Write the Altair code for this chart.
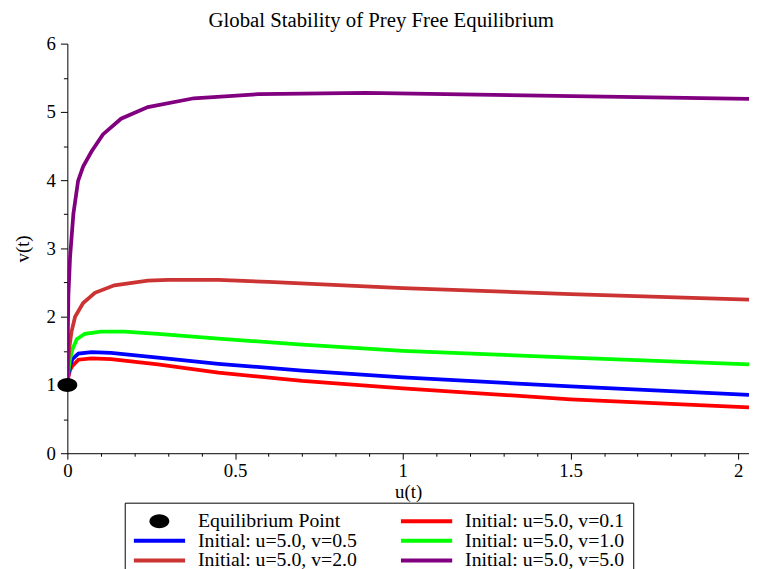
import math
import altair as alt
import pandas as pd

# ---- data ----
title_text = "Global Stability of Prey Free Equilibrium"
eq_label = "Equilibrium Point"
series_labels = [
    "Initial: u=5.0, v=0.1",
    "Initial: u=5.0, v=0.5",
    "Initial: u=5.0, v=1.0",
    "Initial: u=5.0, v=2.0",
    "Initial: u=5.0, v=5.0",
]
series_colors = ["#FF0000", "#0000FF", "#00FF00", "#CC3333", "#800080"]
eq_color = "#000000"

u_v01 = [0, 0.003, 0.008, 0.015, 0.033, 0.072, 0.13, 0.27, 0.45, 0.7, 1.0, 1.5, 2.032]
v_v01 = [1.0, 1.12, 1.22, 1.28, 1.37, 1.39, 1.38, 1.30, 1.18, 1.06, 0.95, 0.79, 0.67]

u_v05 = [0, 0.003, 0.008, 0.015, 0.033, 0.072, 0.13, 0.27, 0.45, 0.7, 1.0, 1.5, 2.032]
v_v05 = [1.0, 1.15, 1.28, 1.38, 1.46, 1.48, 1.47, 1.40, 1.31, 1.21, 1.11, 0.98, 0.855]

u_v10 = [0, 0.003, 0.008, 0.015, 0.028, 0.052, 0.10, 0.17, 0.27, 0.45, 0.7, 1.0, 1.5, 2.032]
v_v10 = [1.0, 1.2, 1.38, 1.52, 1.67, 1.75, 1.78, 1.78, 1.75, 1.68, 1.59, 1.50, 1.40, 1.30]

u_v20 = [0, 0.002, 0.006, 0.012, 0.023, 0.047, 0.082, 0.14, 0.24, 0.3, 0.45, 0.6, 1.0, 1.5, 2.032]
v_v20 = [1.0, 1.3, 1.55, 1.77, 2.0, 2.20, 2.35, 2.46, 2.53, 2.54, 2.54, 2.51, 2.42, 2.33, 2.25]

u_v50 = [0, 0.001, 0.003, 0.008, 0.018, 0.032, 0.047, 0.072, 0.106, 0.16, 0.24, 0.377, 0.57, 0.89, 1.27, 1.65, 2.032]
v_v50 = [1.0, 1.6, 2.3, 2.87, 3.51, 3.99, 4.20, 4.42, 4.67, 4.90, 5.07, 5.20, 5.26, 5.28, 5.25, 5.22, 5.19]

eq_u = [0.0]
eq_v = [1.0]

x_ticks = [round(i * 0.1, 1) for i in range(21)]
y_ticks = [round(i * 0.5, 1) for i in range(13)]
x_domain = [0, 2.032]
y_domain = [0, 6]

# ---- build tables ----
rows = []
for lab, us, vs in zip(series_labels,
                       [u_v01, u_v05, u_v10, u_v20, u_v50],
                       [v_v01, v_v05, v_v10, v_v20, v_v50]):
    for i, (u, v) in enumerate(zip(us, vs)):
        rows.append({"series": lab, "u": u, "v": v, "idx": i})
lines_df = pd.DataFrame(rows)
eq_df = pd.DataFrame({"u": eq_u, "v": eq_v, "series": [eq_label]})

FONT = "Liberation Serif"
SYM_SIZE = 2704  # symbol box 52 px -> path unit = 26 px

# style shapes (unit path coordinates)
_rx, _ry = 10 / 26, 7 / 26
ELLIPSE = "M " + " L ".join(
    f"{_rx * math.cos(2 * math.pi * k / 36):.4f} {_ry * math.sin(2 * math.pi * k / 36):.4f}"
    for k in range(36)
) + " Z"
_h = 2 / 26
BAR = f"M -1 {-_h:.4f} L 1 {-_h:.4f} L 1 {_h:.4f} L -1 {_h:.4f} Z"

half_x = "abs(datum.value*2 - round(datum.value*2)) < 0.001"
int_y = "abs(datum.value - round(datum.value)) < 0.001"

x_axis = alt.Axis(
    values=x_ticks,
    labelExpr=f"{half_x} ? format(datum.value, '~g') : ''",
    tickSize={"condition": {"test": half_x, "value": 6}, "value": 3},
    title="u(t)",
    grid=False,
    labelFlush=False,
    labelOverlap=False,
    labelPadding=3,
    titlePadding=2,
)
y_axis = alt.Axis(
    values=y_ticks,
    labelExpr=f"{int_y} ? format(datum.value, '~g') : ''",
    tickSize={"condition": {"test": int_y, "value": 7}, "value": 4},
    title="v(t)",
    grid=False,
    labelFlush=False,
    labelOverlap=False,
    labelPadding=5,
    titlePadding=14,
)
x_scale = alt.Scale(domain=x_domain, nice=False, zero=False)
y_scale = alt.Scale(domain=y_domain, nice=False)

all_labels = [eq_label] + series_labels
color_scale = alt.Scale(domain=all_labels, range=[eq_color] + series_colors)
shape_scale = alt.Scale(domain=all_labels, range=[ELLIPSE] + [BAR] * len(series_labels))

legend = alt.Legend(
    title=None,
    orient="none",
    direction="horizontal",
    legendX=58,
    legendY=464,
    columns=2,
    symbolSize=SYM_SIZE,
    symbolStrokeWidth=0,
    symbolOpacity=1,
    labelFont=FONT,
    labelFontSize=20,
    labelColor="black",
    labelLimit=400,
    labelOffset=13,
    columnPadding=44,
    rowPadding=-6,
    clipHeight=19,
    strokeColor="black",
    fillColor="white",
    padding=9,
)

lines = (
    alt.Chart(lines_df)
    .mark_line(strokeWidth=3.8, clip=True)
    .encode(
        x=alt.X("u:Q", scale=x_scale, axis=x_axis),
        y=alt.Y("v:Q", scale=y_scale, axis=y_axis),
        color=alt.Color("series:N", scale=color_scale, legend=None),
        order=alt.Order("idx:Q"),
        detail="series:N",
    )
)

point = (
    alt.Chart(eq_df)
    .mark_point(filled=True, size=SYM_SIZE, opacity=1)
    .encode(
        x=alt.X("u:Q", scale=x_scale, axis=x_axis),
        y=alt.Y("v:Q", scale=y_scale, axis=y_axis),
        color=alt.Color("series:N", scale=color_scale, legend=legend),
        shape=alt.Shape("series:N", scale=shape_scale, legend=legend),
    )
)

chart = (
    alt.layer(lines, point)
    .resolve_legend(color="independent", shape="independent")
    .properties(
        width=689,
        height=414,
        title=alt.TitleParams(
            title_text, font=FONT, fontSize=21, fontWeight="normal",
            color="black", anchor="middle", frame="bounds", offset=4,
        ),
        autosize=alt.AutoSizeParams(type="none"),
        padding={"left": 60, "top": 33, "right": 0, "bottom": 114},
    )
    .configure_view(stroke=None)
    .configure_axis(
        domainColor="black",
        domainWidth=1,
        tickColor="black",
        tickWidth=1,
        labelFont=FONT,
        labelFontSize=19,
        labelColor="black",
        titleFont=FONT,
        titleFontSize=19,
        titleFontWeight="normal",
        titleColor="black",
    )
)

chart.save("out.html", embed_options={"renderer": "svg", "actions": False})
